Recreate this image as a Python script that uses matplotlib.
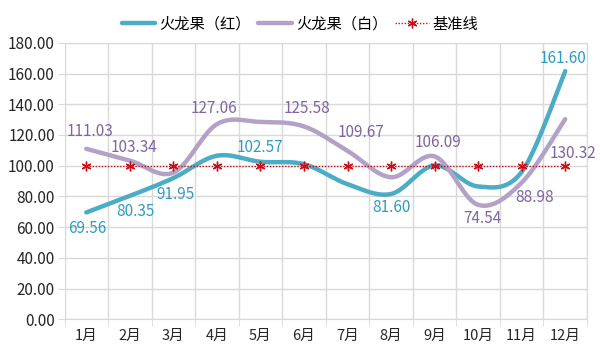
import numpy as np
import matplotlib
matplotlib.use('Agg')
import matplotlib.pyplot as plt

plt.rcParams['font.family'] = ['Noto Sans CJK SC', 'DejaVu Sans']

months = ['1月', '2月', '3月', '4月', '5月', '6月', '7月', '8月', '9月', '10月', '11月', '12月']
red = [69.56, 80.35, 91.95, 106.5, 102.57, 101.0, 88.0, 81.60, 100.2, 86.5, 96.0, 161.60]
white = [111.03, 103.34, 95.5, 127.06, 128.5, 125.58, 109.67, 92.5, 106.09, 74.54, 88.98, 130.32]
base = [100] * 12

# which points carry a label, with offset in pixels (dx, dy)
red_labels = {0: (1, -16), 1: (6, -16), 2: (2, -16), 4: (0, 14), 7: (0, -14), 11: (-2, 13)}
white_labels = {0: (4, 17), 1: (4, 13), 3: (-3, 16), 5: (3, 18), 6: (13, 18), 8: (3, 14),
                9: (4, -14), 10: (13, -15), 11: (8, -34)}

red_col = '#4BACC6'
white_col = '#B3A2C7'
red_txt = '#2E9CC0'
white_txt = '#8064A2'
base_col = '#C8101A'


def smooth(y, n=40):
    # excel-style smoothed line (catmull-rom as cubic bezier)
    x = np.arange(len(y), dtype=float)
    y = np.asarray(y, dtype=float)
    pts = np.column_stack([x, y])
    ext = np.vstack([pts[0], pts, pts[-1]])
    out = []
    t = np.linspace(0, 1, n)[:, None]
    for i in range(len(pts) - 1):
        p0, p1, p2, p3 = ext[i], ext[i + 1], ext[i + 2], ext[i + 3]
        c1 = p1 + (p2 - p0) / 6
        c2 = p2 - (p3 - p1) / 6
        seg = ((1 - t) ** 3) * p1 + 3 * ((1 - t) ** 2) * t * c1 + 3 * (1 - t) * t ** 2 * c2 + t ** 3 * p2
        out.append(seg if i == 0 else seg[1:])
    out = np.vstack(out)
    return out[:, 0], out[:, 1]


fig = plt.figure(figsize=(6, 3.6), dpi=100)
ax = fig.add_axes([0.1075, 0.113, 0.8708, 0.768])

x = np.arange(12)
sx, sy = smooth(red)
ax.plot(sx, sy, color=red_col, lw=3.2, label='火龙果（红）', solid_capstyle='round', zorder=3)
sx, sy = smooth(white)
ax.plot(sx, sy, color=white_col, lw=3.2, label='火龙果（白）', solid_capstyle='round', zorder=3)
ax.plot(x, base, color=base_col, lw=1.0, ls=(0, (1, 1.2)), marker=(6, 2, 0), ms=7,
        mew=1.0, label='基准线', zorder=4)

for i, (dx, dy) in red_labels.items():
    ax.annotate(f'{red[i]:.2f}', (x[i], red[i]), xytext=(dx, dy), textcoords='offset pixels',
                ha='center', va='center', fontsize=11, color=red_txt, zorder=5)
for i, (dx, dy) in white_labels.items():
    ax.annotate(f'{white[i]:.2f}', (x[i], white[i]), xytext=(dx, dy), textcoords='offset pixels',
                ha='center', va='center', fontsize=11, color=white_txt, zorder=5)

ax.set_xlim(-0.5, 11.5)
ax.set_ylim(0, 180)
ax.set_yticks(np.arange(0, 181, 20))
ax.set_yticklabels([f'{v:.2f}' for v in np.arange(0, 181, 20)], fontsize=11, color='#262626')
ax.set_xticks(x)
ax.set_xticklabels(months, fontsize=10.5, color='#262626')
ax.set_xticks(np.arange(-0.5, 12, 1), minor=True)
ax.tick_params(axis='x', which='major', length=0, pad=7)
ax.tick_params(axis='x', which='minor', length=5, color='#D9D9D9')
ax.tick_params(axis='y', length=5, color='#D9D9D9', pad=2)
ax.grid(True, axis='y', color='#D9D9D9', lw=1)
ax.grid(True, axis='x', which='minor', color='#D9D9D9', lw=1)
for s in ax.spines.values():
    s.set_color('#D9D9D9')
ax.set_axisbelow(True)

fig.legend(loc='center', bbox_to_anchor=(0.5, 0.933), ncol=3, frameon=False, fontsize=11,
           handlelength=2.2, columnspacing=0.5, handletextpad=0.25, borderpad=0)

fig.savefig('out.png', dpi=100)
